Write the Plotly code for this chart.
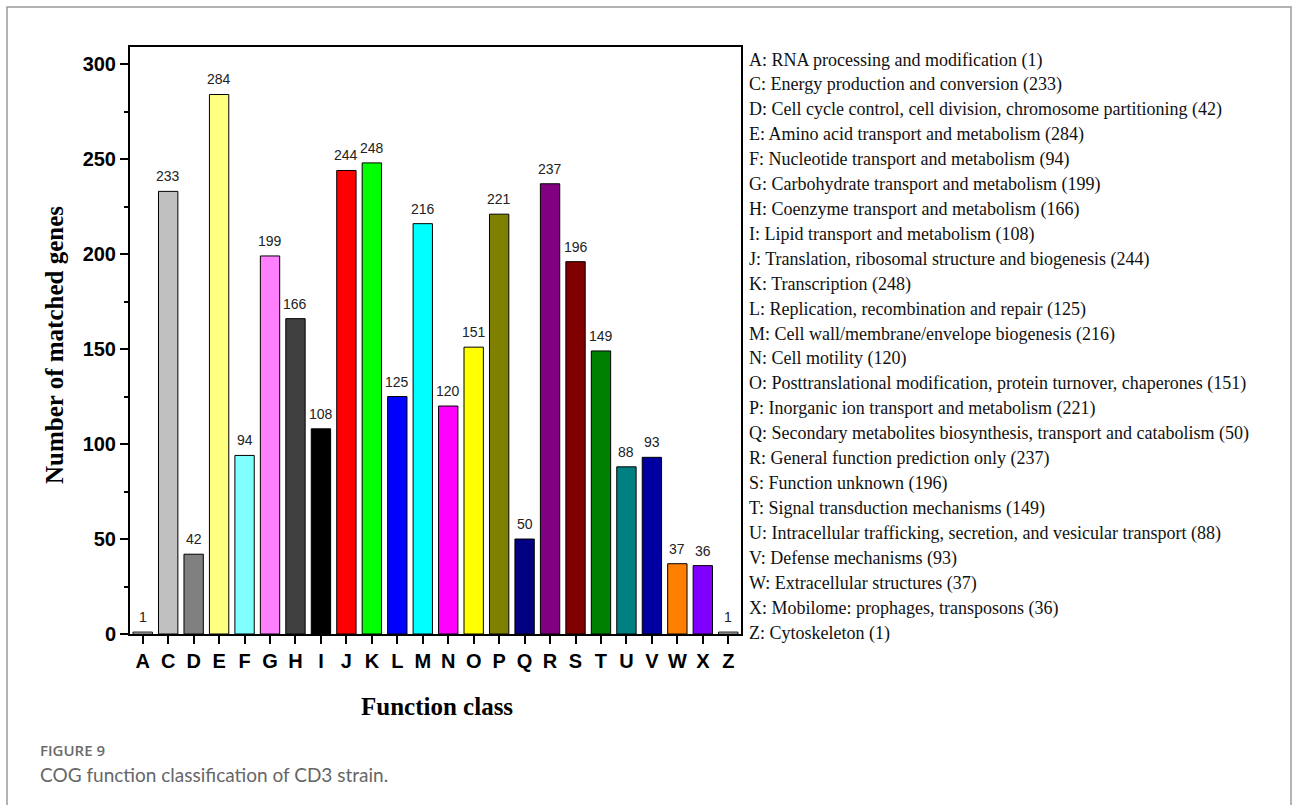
import plotly.graph_objects as go

# COG categories, gene counts and bar colours
classes = ["A", "C", "D", "E", "F", "G", "H", "I", "J", "K", "L", "M",
           "N", "O", "P", "Q", "R", "S", "T", "U", "V", "W", "X", "Z"]
counts = [1, 233, 42, 284, 94, 199, 166, 108, 244, 248, 125, 216,
          120, 151, 221, 50, 237, 196, 149, 88, 93, 37, 36, 1]
colors = ["#FFFFFF", "#C0C0C0", "#808080", "#FFFF80", "#80FFFF", "#FF80FF",
          "#404040", "#000000", "#FF0000", "#00FF00", "#0000FF", "#00FFFF",
          "#FF00FF", "#FFFF00", "#808000", "#000080", "#800080", "#800000",
          "#008000", "#008080", "#0000A0", "#FF8000", "#8000FF", "#FFFFFF"]
descriptions = [
    "RNA processing and modification",
    "Energy production and conversion",
    "Cell cycle control, cell division, chromosome partitioning",
    "Amino acid transport and metabolism",
    "Nucleotide transport and metabolism",
    "Carbohydrate transport and metabolism",
    "Coenzyme transport and metabolism",
    "Lipid transport and metabolism",
    "Translation, ribosomal structure and biogenesis",
    "Transcription",
    "Replication, recombination and repair",
    "Cell wall/membrane/envelope biogenesis",
    "Cell motility",
    "Posttranslational modification, protein turnover, chaperones",
    "Inorganic ion transport and metabolism",
    "Secondary metabolites biosynthesis, transport and catabolism",
    "General function prediction only",
    "Function unknown",
    "Signal transduction mechanisms",
    "Intracellular trafficking, secretion, and vesicular transport",
    "Defense mechanisms",
    "Extracellular structures",
    "Mobilome: prophages, transposons",
    "Cytoskeleton",
]

W, H = 1292, 805
L, R, T, B = 130, 741, 47, 634  # plot box in pixels
pw, ph = R - L, B - T


def px(x):
    return (x - L) / pw


def py(y):
    return (B - y) / ph


SERIF = "Liberation Serif, Times New Roman, serif"
SANS = "Liberation Sans, Arial, sans-serif"

fig = go.Figure()
fig.add_trace(go.Bar(
    x=classes, y=counts,
    marker=dict(color=colors, line=dict(color="#000000", width=1)),
    width=0.76,
    hoverinfo="x+y",
))

annotations = []
# value labels above each bar
for c, v in zip(classes, counts):
    annotations.append(dict(
        x=c, y=v, xref="x", yref="y",
        xanchor="center", yanchor="bottom", yshift=5, showarrow=False,
        text=str(v), font=dict(family=SANS, size=14, color="#222222"),
    ))

# category descriptions listed beside the plot
n = len(classes)
y_first, y_last = 60, 633
for i, (c, d, v) in enumerate(zip(classes, descriptions, counts)):
    yy = y_first + (y_last - y_first) * i / (n - 1)
    annotations.append(dict(
        x=px(747), y=py(yy), xref="paper", yref="paper",
        xanchor="left", yanchor="middle", showarrow=False,
        text=f"{c}: {d} ({v})",
        font=dict(family=SERIF, size=18, color="#111111"),
    ))

# axis titles
annotations.append(dict(
    x=px(55), y=py(345), xref="paper", yref="paper", textangle=-90,
    xanchor="center", yanchor="middle", showarrow=False,
    text="<b>Number of matched genes</b>",
    font=dict(family=SERIF, size=25, color="#000000"),
))
annotations.append(dict(
    x=px(437), y=py(706), xref="paper", yref="paper",
    xanchor="center", yanchor="middle", showarrow=False,
    text="<b>Function class</b>",
    font=dict(family=SERIF, size=25, color="#000000"),
))
# caption
annotations.append(dict(
    x=px(38), y=py(750), xref="paper", yref="paper",
    xanchor="left", yanchor="middle", showarrow=False,
    text="FIGURE 9",
    font=dict(family="Open Sans, sans-serif", size=15, color="#6b6b6b",
              weight=600),
))
annotations.append(dict(
    x=px(38), y=py(774), xref="paper", yref="paper",
    xanchor="left", yanchor="middle", showarrow=False,
    text="COG function classification of CD3 strain.",
    font=dict(family="Lato, sans-serif", size=19, color="#666666"),
))

shapes = [
    # page frame (top, left, right edges)
    dict(type="rect", xref="paper", yref="paper",
         x0=px(7), x1=px(1291), y0=py(820), y1=py(7),
         line=dict(color="#9a9a9a", width=1.5), fillcolor="rgba(0,0,0,0)",
         layer="below"),
]

fig.update_layout(
    width=W, height=H,
    margin=dict(l=L, r=W - R, t=T, b=H - B, pad=0),
    paper_bgcolor="#FFFFFF", plot_bgcolor="#FFFFFF",
    showlegend=False,
    annotations=annotations,
    shapes=shapes,
    xaxis=dict(
        type="category", range=[-0.5, n - 0.5],
        showline=True, linecolor="#000000", linewidth=2, mirror=True,
        ticks="outside", ticklen=8, tickwidth=1.5, tickcolor="#000000",
        tickfont=dict(family=SANS, size=20, color="#000000", weight="bold"),
        showgrid=False, zeroline=False, fixedrange=True,
    ),
    yaxis=dict(
        range=[0, 309],
        tickvals=[0, 50, 100, 150, 200, 250, 300],
        showline=True, linecolor="#000000", linewidth=2, mirror=True,
        ticks="outside", ticklen=8, tickwidth=1.5, tickcolor="#000000",
        tickfont=dict(family=SANS, size=20, color="#000000", weight="bold"),
        minor=dict(ticks="outside", ticklen=4, tickwidth=1.5, tickcolor="#000000",
                   tickvals=[25, 75, 125, 175, 225, 275], showgrid=False),
        showgrid=False, zeroline=False, fixedrange=True,
    ),
)

fig.write_html("out.html")
